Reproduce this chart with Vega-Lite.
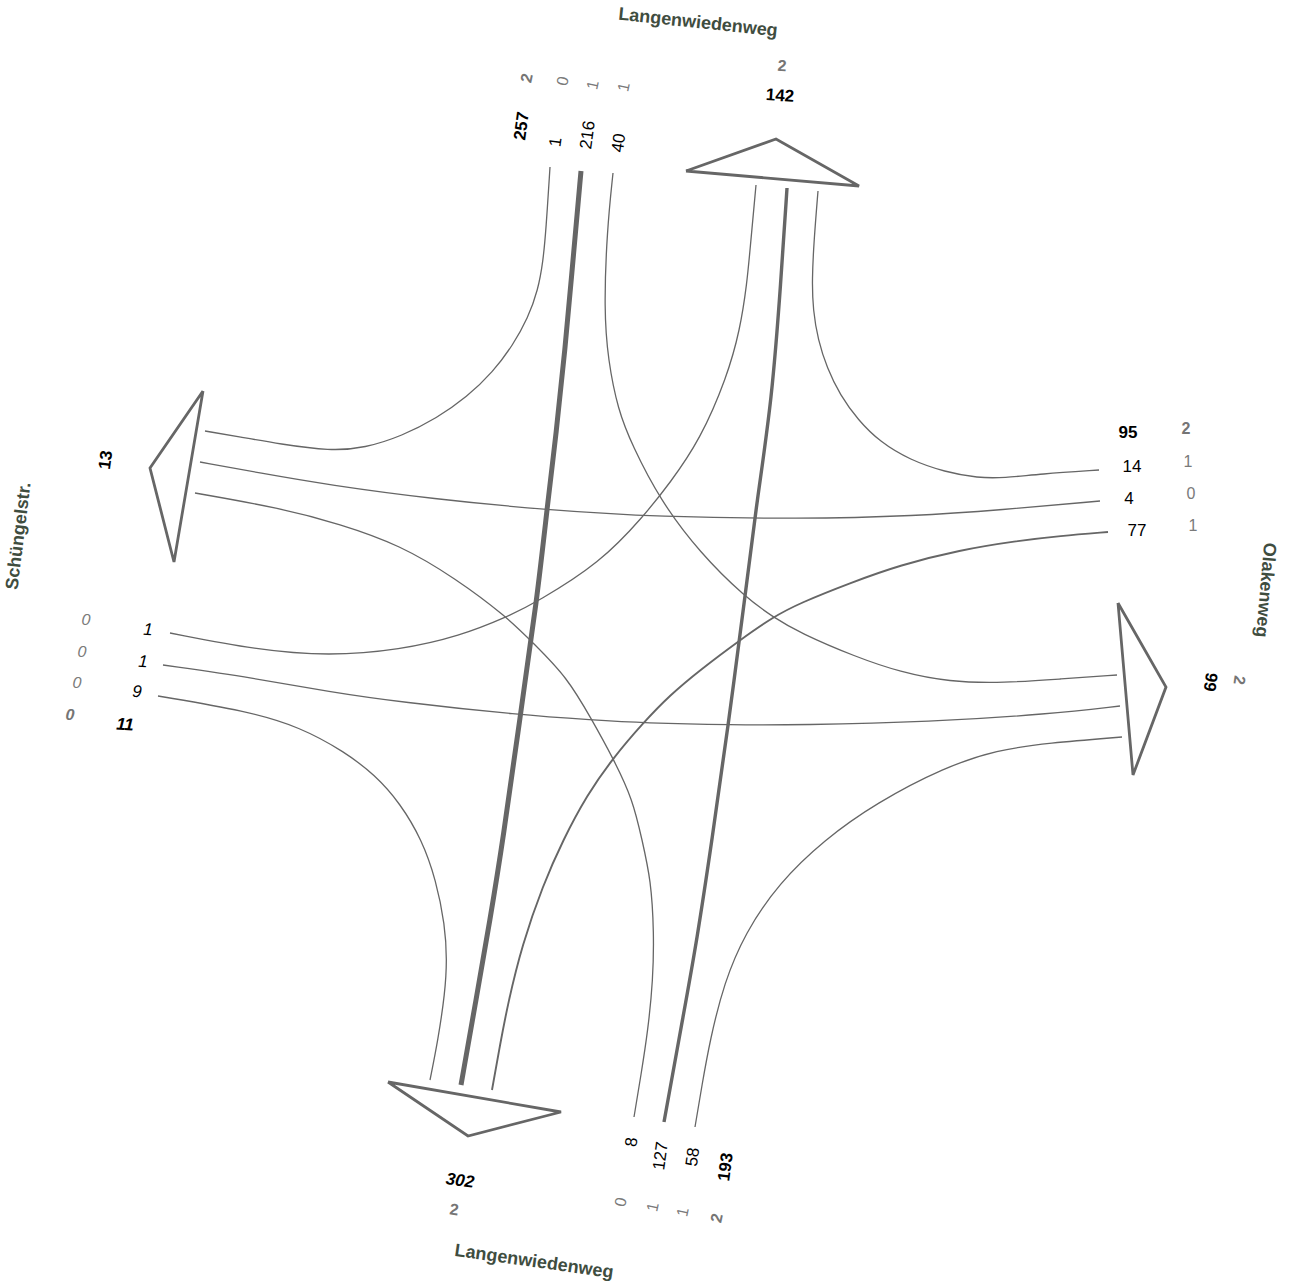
{
  "$schema": "https://vega.github.io/schema/vega-lite/v6.json",
  "width": 1291,
  "height": 1287,
  "padding": 0,
  "autosize": {"type": "none"},
  "background": "white",
  "config": {"view": {"stroke": null}},
  "datasets": {
    "flows": [
      {"flow":"N-W","count":1,"seq":1,"x":550,"y":167},{"flow":"N-W","count":1,"seq":2,"x":546,"y":230},{"flow":"N-W","count":1,"seq":3,"x":543,"y":262},{"flow":"N-W","count":1,"seq":4,"x":538,"y":290},{"flow":"N-W","count":1,"seq":5,"x":528,"y":318},{"flow":"N-W","count":1,"seq":6,"x":513,"y":345},{"flow":"N-W","count":1,"seq":7,"x":493,"y":372},{"flow":"N-W","count":1,"seq":8,"x":467,"y":397},{"flow":"N-W","count":1,"seq":9,"x":437,"y":418},{"flow":"N-W","count":1,"seq":10,"x":402,"y":436},{"flow":"N-W","count":1,"seq":11,"x":365,"y":448},{"flow":"N-W","count":1,"seq":12,"x":330,"y":451},{"flow":"N-W","count":1,"seq":13,"x":280,"y":444},{"flow":"N-W","count":1,"seq":14,"x":240,"y":437},{"flow":"N-W","count":1,"seq":15,"x":205,"y":431},

      {"flow":"N-S","count":216,"seq":1,"x":581,"y":171},{"flow":"N-S","count":216,"seq":2,"x":573,"y":260},{"flow":"N-S","count":216,"seq":3,"x":565,"y":350},{"flow":"N-S","count":216,"seq":4,"x":556,"y":435},{"flow":"N-S","count":216,"seq":5,"x":548,"y":500},{"flow":"N-S","count":216,"seq":6,"x":537,"y":600},{"flow":"N-S","count":216,"seq":7,"x":520,"y":717},{"flow":"N-S","count":216,"seq":8,"x":503,"y":840},{"flow":"N-S","count":216,"seq":9,"x":490,"y":920},{"flow":"N-S","count":216,"seq":10,"x":476,"y":1000},{"flow":"N-S","count":216,"seq":11,"x":461,"y":1085},

      {"flow":"N-E","count":40,"seq":1,"x":613,"y":173},{"flow":"N-E","count":40,"seq":2,"x":607,"y":230},{"flow":"N-E","count":40,"seq":3,"x":604,"y":310},{"flow":"N-E","count":40,"seq":4,"x":608,"y":360},{"flow":"N-E","count":40,"seq":5,"x":618,"y":410},{"flow":"N-E","count":40,"seq":6,"x":632,"y":445},{"flow":"N-E","count":40,"seq":7,"x":660,"y":500},{"flow":"N-E","count":40,"seq":8,"x":700,"y":553},{"flow":"N-E","count":40,"seq":9,"x":745,"y":597},{"flow":"N-E","count":40,"seq":10,"x":773,"y":617},{"flow":"N-E","count":40,"seq":11,"x":800,"y":633},{"flow":"N-E","count":40,"seq":12,"x":856,"y":657},{"flow":"N-E","count":40,"seq":13,"x":900,"y":672},{"flow":"N-E","count":40,"seq":14,"x":949,"y":682},{"flow":"N-E","count":40,"seq":15,"x":1004,"y":683},{"flow":"N-E","count":40,"seq":16,"x":1060,"y":679},{"flow":"N-E","count":40,"seq":17,"x":1117,"y":675},

      {"flow":"E-N","count":14,"seq":1,"x":1099,"y":470},{"flow":"E-N","count":14,"seq":2,"x":1040,"y":474},{"flow":"E-N","count":14,"seq":3,"x":1004,"y":478},{"flow":"E-N","count":14,"seq":4,"x":978,"y":478},{"flow":"E-N","count":14,"seq":5,"x":945,"y":472},{"flow":"E-N","count":14,"seq":6,"x":910,"y":460},{"flow":"E-N","count":14,"seq":7,"x":880,"y":442},{"flow":"E-N","count":14,"seq":8,"x":858,"y":420},{"flow":"E-N","count":14,"seq":9,"x":840,"y":395},{"flow":"E-N","count":14,"seq":10,"x":827,"y":368},{"flow":"E-N","count":14,"seq":11,"x":818,"y":340},{"flow":"E-N","count":14,"seq":12,"x":813,"y":310},{"flow":"E-N","count":14,"seq":13,"x":812,"y":280},{"flow":"E-N","count":14,"seq":14,"x":814,"y":240},{"flow":"E-N","count":14,"seq":15,"x":818,"y":191},

      {"flow":"E-W","count":4,"seq":1,"x":1100,"y":501},{"flow":"E-W","count":4,"seq":2,"x":1000,"y":510},{"flow":"E-W","count":4,"seq":3,"x":916,"y":516},{"flow":"E-W","count":4,"seq":4,"x":800,"y":519},{"flow":"E-W","count":4,"seq":5,"x":660,"y":517},{"flow":"E-W","count":4,"seq":6,"x":547,"y":510},{"flow":"E-W","count":4,"seq":7,"x":433,"y":499},{"flow":"E-W","count":4,"seq":8,"x":329,"y":485},{"flow":"E-W","count":4,"seq":9,"x":260,"y":473},{"flow":"E-W","count":4,"seq":10,"x":200,"y":462},

      {"flow":"E-S","count":77,"seq":1,"x":1108,"y":532},{"flow":"E-S","count":77,"seq":2,"x":1060,"y":536},{"flow":"E-S","count":77,"seq":3,"x":1016,"y":541},{"flow":"E-S","count":77,"seq":4,"x":960,"y":550},{"flow":"E-S","count":77,"seq":5,"x":900,"y":565},{"flow":"E-S","count":77,"seq":6,"x":850,"y":583},{"flow":"E-S","count":77,"seq":7,"x":800,"y":603},{"flow":"E-S","count":77,"seq":8,"x":773,"y":617},{"flow":"E-S","count":77,"seq":9,"x":740,"y":640},{"flow":"E-S","count":77,"seq":10,"x":700,"y":670},{"flow":"E-S","count":77,"seq":11,"x":670,"y":695},{"flow":"E-S","count":77,"seq":12,"x":643,"y":723},{"flow":"E-S","count":77,"seq":13,"x":613,"y":758},{"flow":"E-S","count":77,"seq":14,"x":587,"y":795},{"flow":"E-S","count":77,"seq":15,"x":563,"y":840},{"flow":"E-S","count":77,"seq":16,"x":543,"y":885},{"flow":"E-S","count":77,"seq":17,"x":522,"y":945},{"flow":"E-S","count":77,"seq":18,"x":508,"y":1003},{"flow":"E-S","count":77,"seq":19,"x":500,"y":1045},{"flow":"E-S","count":77,"seq":20,"x":492,"y":1090},

      {"flow":"S-W","count":8,"seq":1,"x":634,"y":1117},{"flow":"S-W","count":8,"seq":2,"x":641,"y":1075},{"flow":"S-W","count":8,"seq":3,"x":648,"y":1030},{"flow":"S-W","count":8,"seq":4,"x":653,"y":980},{"flow":"S-W","count":8,"seq":5,"x":654,"y":933},{"flow":"S-W","count":8,"seq":6,"x":651,"y":880},{"flow":"S-W","count":8,"seq":7,"x":642,"y":840},{"flow":"S-W","count":8,"seq":8,"x":633,"y":800},{"flow":"S-W","count":8,"seq":9,"x":613,"y":758},{"flow":"S-W","count":8,"seq":10,"x":592,"y":720},{"flow":"S-W","count":8,"seq":11,"x":567,"y":677},{"flow":"S-W","count":8,"seq":12,"x":533,"y":643},{"flow":"S-W","count":8,"seq":13,"x":507,"y":617},{"flow":"S-W","count":8,"seq":14,"x":455,"y":578},{"flow":"S-W","count":8,"seq":15,"x":400,"y":545},{"flow":"S-W","count":8,"seq":16,"x":340,"y":524},{"flow":"S-W","count":8,"seq":17,"x":280,"y":508},{"flow":"S-W","count":8,"seq":18,"x":195,"y":493},

      {"flow":"S-N","count":127,"seq":1,"x":664,"y":1122},{"flow":"S-N","count":127,"seq":2,"x":683,"y":1017},{"flow":"S-N","count":127,"seq":3,"x":697,"y":940},{"flow":"S-N","count":127,"seq":4,"x":712,"y":840},{"flow":"S-N","count":127,"seq":5,"x":728,"y":727},{"flow":"S-N","count":127,"seq":6,"x":745,"y":597},{"flow":"S-N","count":127,"seq":7,"x":757,"y":500},{"flow":"S-N","count":127,"seq":8,"x":772,"y":400},{"flow":"S-N","count":127,"seq":9,"x":781,"y":280},{"flow":"S-N","count":127,"seq":10,"x":787,"y":188},

      {"flow":"S-E","count":58,"seq":1,"x":695,"y":1127},{"flow":"S-E","count":58,"seq":2,"x":702,"y":1085},{"flow":"S-E","count":58,"seq":3,"x":710,"y":1040},{"flow":"S-E","count":58,"seq":4,"x":724,"y":983},{"flow":"S-E","count":58,"seq":5,"x":745,"y":933},{"flow":"S-E","count":58,"seq":6,"x":779,"y":883},{"flow":"S-E","count":58,"seq":7,"x":824,"y":840},{"flow":"S-E","count":58,"seq":8,"x":876,"y":803},{"flow":"S-E","count":58,"seq":9,"x":945,"y":767},{"flow":"S-E","count":58,"seq":10,"x":997,"y":750},{"flow":"S-E","count":58,"seq":11,"x":1048,"y":743},{"flow":"S-E","count":58,"seq":12,"x":1122,"y":737},

      {"flow":"W-N","count":1,"seq":1,"x":170,"y":633},{"flow":"W-N","count":1,"seq":2,"x":257,"y":650},{"flow":"W-N","count":1,"seq":3,"x":329,"y":656},{"flow":"W-N","count":1,"seq":4,"x":400,"y":650},{"flow":"W-N","count":1,"seq":5,"x":460,"y":636},{"flow":"W-N","count":1,"seq":6,"x":507,"y":617},{"flow":"W-N","count":1,"seq":7,"x":537,"y":602},{"flow":"W-N","count":1,"seq":8,"x":600,"y":563},{"flow":"W-N","count":1,"seq":9,"x":643,"y":517},{"flow":"W-N","count":1,"seq":10,"x":670,"y":483},{"flow":"W-N","count":1,"seq":11,"x":700,"y":440},{"flow":"W-N","count":1,"seq":12,"x":727,"y":377},{"flow":"W-N","count":1,"seq":13,"x":740,"y":330},{"flow":"W-N","count":1,"seq":14,"x":747,"y":283},{"flow":"W-N","count":1,"seq":15,"x":750,"y":250},{"flow":"W-N","count":1,"seq":16,"x":756,"y":185},

      {"flow":"W-E","count":1,"seq":1,"x":163,"y":665},{"flow":"W-E","count":1,"seq":2,"x":254,"y":678},{"flow":"W-E","count":1,"seq":3,"x":330,"y":692},{"flow":"W-E","count":1,"seq":4,"x":400,"y":702},{"flow":"W-E","count":1,"seq":5,"x":520,"y":715},{"flow":"W-E","count":1,"seq":6,"x":593,"y":720},{"flow":"W-E","count":1,"seq":7,"x":643,"y":723},{"flow":"W-E","count":1,"seq":8,"x":733,"y":725},{"flow":"W-E","count":1,"seq":9,"x":800,"y":725},{"flow":"W-E","count":1,"seq":10,"x":930,"y":722},{"flow":"W-E","count":1,"seq":11,"x":1050,"y":714},{"flow":"W-E","count":1,"seq":12,"x":1120,"y":706},

      {"flow":"W-S","count":9,"seq":1,"x":158,"y":696},{"flow":"W-S","count":9,"seq":2,"x":247,"y":711},{"flow":"W-S","count":9,"seq":3,"x":300,"y":727},{"flow":"W-S","count":9,"seq":4,"x":345,"y":752},{"flow":"W-S","count":9,"seq":5,"x":375,"y":775},{"flow":"W-S","count":9,"seq":6,"x":400,"y":803},{"flow":"W-S","count":9,"seq":7,"x":422,"y":840},{"flow":"W-S","count":9,"seq":8,"x":436,"y":880},{"flow":"W-S","count":9,"seq":9,"x":445,"y":925},{"flow":"W-S","count":9,"seq":10,"x":447,"y":960},{"flow":"W-S","count":9,"seq":11,"x":445,"y":993},{"flow":"W-S","count":9,"seq":12,"x":438,"y":1040},{"flow":"W-S","count":9,"seq":13,"x":430,"y":1080}
    ],
    "arrows": [
      {"arm":"N","seq":1,"x":686,"y":171},{"arm":"N","seq":2,"x":776,"y":139},{"arm":"N","seq":3,"x":859,"y":186},{"arm":"N","seq":4,"x":686,"y":171},
      {"arm":"W","seq":1,"x":203,"y":391},{"arm":"W","seq":2,"x":150,"y":468},{"arm":"W","seq":3,"x":174,"y":562},{"arm":"W","seq":4,"x":203,"y":391},
      {"arm":"E","seq":1,"x":1118,"y":603},{"arm":"E","seq":2,"x":1166,"y":687},{"arm":"E","seq":3,"x":1133,"y":775},{"arm":"E","seq":4,"x":1118,"y":603},
      {"arm":"S","seq":1,"x":388,"y":1082},{"arm":"S","seq":2,"x":561,"y":1112},{"arm":"S","seq":3,"x":468,"y":1136},{"arm":"S","seq":4,"x":388,"y":1082}
    ],
    "labels": [
      {"t":"Langenwiedenweg","kind":"street","o":"Nst","x":698,"y":23},
      {"t":"Langenwiedenweg","kind":"street","o":"Sst","x":534,"y":1262},
      {"t":"Schüngelstr.","kind":"street","o":"Wst","x":19,"y":536},
      {"t":"Olakenweg","kind":"street","o":"Est","x":1265,"y":590},

      {"t":"257","kind":"total","o":"Nin","x":522,"y":126},
      {"t":"1","kind":"lane","o":"Nin","x":556,"y":142},
      {"t":"216","kind":"lane","o":"Nin","x":588,"y":135},
      {"t":"40","kind":"lane","o":"Nin","x":619,"y":143},
      {"t":"2","kind":"gtotal","o":"Ng","x":527,"y":78},
      {"t":"0","kind":"glane","o":"Ng","x":563,"y":81},
      {"t":"1","kind":"glane","o":"Ng","x":593,"y":85},
      {"t":"1","kind":"glane","o":"Ng","x":624,"y":87},
      {"t":"142","kind":"total","o":"Nout","x":780,"y":96},
      {"t":"2","kind":"gtotal","o":"Nout","x":782,"y":66},

      {"t":"95","kind":"total","o":"Ein","x":1128,"y":433},
      {"t":"14","kind":"lane","o":"Ein","x":1132,"y":467},
      {"t":"4","kind":"lane","o":"Ein","x":1129,"y":499},
      {"t":"77","kind":"lane","o":"Ein","x":1137,"y":531},
      {"t":"2","kind":"gtotal","o":"Ein","x":1186,"y":429},
      {"t":"1","kind":"glane","o":"Ein","x":1188,"y":462},
      {"t":"0","kind":"glane","o":"Ein","x":1191,"y":494},
      {"t":"1","kind":"glane","o":"Ein","x":1193,"y":526},
      {"t":"99","kind":"total","o":"Eout","x":1210,"y":682},
      {"t":"2","kind":"gtotal","o":"Eout","x":1239,"y":680},

      {"t":"11","kind":"totalI","o":"Win","x":125,"y":725},
      {"t":"1","kind":"laneI","o":"Win","x":148,"y":630},
      {"t":"1","kind":"laneI","o":"Win","x":143,"y":662},
      {"t":"9","kind":"laneI","o":"Win","x":137,"y":692},
      {"t":"0","kind":"glaneI","o":"Win","x":86,"y":620},
      {"t":"0","kind":"glaneI","o":"Win","x":82,"y":652},
      {"t":"0","kind":"glaneI","o":"Win","x":77,"y":683},
      {"t":"0","kind":"gtotalI","o":"Win","x":70,"y":715},
      {"t":"13","kind":"total","o":"Wout","x":106,"y":460},

      {"t":"193","kind":"total","o":"Sin","x":726,"y":1167},
      {"t":"8","kind":"lane","o":"Sin","x":632,"y":1142},
      {"t":"127","kind":"lane","o":"Sin","x":661,"y":1156},
      {"t":"58","kind":"lane","o":"Sin","x":693,"y":1157},
      {"t":"0","kind":"glane","o":"Sg","x":621,"y":1202},
      {"t":"1","kind":"glane","o":"Sg","x":653,"y":1207},
      {"t":"1","kind":"glane","o":"Sg","x":683,"y":1212},
      {"t":"2","kind":"gtotal","o":"Sg","x":717,"y":1218},
      {"t":"302","kind":"totalI","o":"Sout","x":460,"y":1181},
      {"t":"2","kind":"gtotal","o":"Sout","x":454,"y":1210}
    ]
  },
  "encoding": {
    "x": {"field": "x", "type": "quantitative", "scale": {"domain": [0, 1291], "nice": false, "zero": false}, "axis": null},
    "y": {"field": "y", "type": "quantitative", "scale": {"domain": [0, 1287], "nice": false, "zero": false, "reverse": true}, "axis": null}
  },
  "layer": [
    {
      "data": {"name": "flows"},
      "mark": {"type": "line", "interpolate": "basis", "color": "#666666"},
      "encoding": {
        "detail": {"field": "flow", "type": "nominal"},
        "order": {"field": "seq", "type": "quantitative"},
        "strokeWidth": {"field": "count", "type": "quantitative", "scale": {"type": "threshold", "domain": [60, 100, 200], "range": [1.3, 1.9, 3.4, 5]}, "legend": null}
      }
    },
    {
      "data": {"name": "arrows"},
      "mark": {"type": "line", "interpolate": "linear", "color": "#666666", "strokeWidth": 2.8, "strokeJoin": "miter"},
      "encoding": {
        "detail": {"field": "arm", "type": "nominal"},
        "order": {"field": "seq", "type": "quantitative"}
      }
    },
    {
      "data": {"name": "labels"},
      "encoding": {
        "text": {"field": "t", "type": "nominal"},
        "angle": {"field": "o", "type": "nominal", "scale": {"type": "ordinal", "domain": ["Nst","Sst","Wst","Est","Nin","Ng","Nout","Ein","Eout","Win","Wout","Sin","Sg","Sout"], "range": [6, 8, -83, 95, -82, -78, 4, 0, 98, 3, -82, -82, -78, 8]}, "legend": null}
      },
      "layer": [
        {"transform": [{"filter": "datum.kind == 'street'"}], "mark": {"type": "text", "font": "Liberation Sans", "fontSize": 18, "fontWeight": "bold", "color": "#3f4d3f", "align": "center", "baseline": "middle"}},
        {"transform": [{"filter": "datum.kind == 'total'"}], "mark": {"type": "text", "font": "Liberation Sans", "fontSize": 17, "fontWeight": "bold", "color": "#000000", "align": "center", "baseline": "middle"}},
        {"transform": [{"filter": "datum.kind == 'totalI'"}], "mark": {"type": "text", "font": "Liberation Sans", "fontSize": 17, "fontWeight": "bold", "fontStyle": "italic", "color": "#000000", "align": "center", "baseline": "middle"}},
        {"transform": [{"filter": "datum.kind == 'lane'"}], "mark": {"type": "text", "font": "Liberation Sans", "fontSize": 17, "color": "#000000", "align": "center", "baseline": "middle"}},
        {"transform": [{"filter": "datum.kind == 'laneI'"}], "mark": {"type": "text", "font": "Liberation Sans", "fontSize": 17, "fontStyle": "italic", "color": "#000000", "align": "center", "baseline": "middle"}},
        {"transform": [{"filter": "datum.kind == 'gtotal'"}], "mark": {"type": "text", "font": "Liberation Sans", "fontSize": 16, "fontWeight": "bold", "color": "#757575", "align": "center", "baseline": "middle"}},
        {"transform": [{"filter": "datum.kind == 'gtotalI'"}], "mark": {"type": "text", "font": "Liberation Sans", "fontSize": 16, "fontWeight": "bold", "fontStyle": "italic", "color": "#757575", "align": "center", "baseline": "middle"}},
        {"transform": [{"filter": "datum.kind == 'glane'"}], "mark": {"type": "text", "font": "Liberation Sans", "fontSize": 16, "color": "#7a7a7a", "align": "center", "baseline": "middle"}},
        {"transform": [{"filter": "datum.kind == 'glaneI'"}], "mark": {"type": "text", "font": "Liberation Sans", "fontSize": 16, "fontStyle": "italic", "color": "#7a7a7a", "align": "center", "baseline": "middle"}}
      ]
    }
  ]
}
